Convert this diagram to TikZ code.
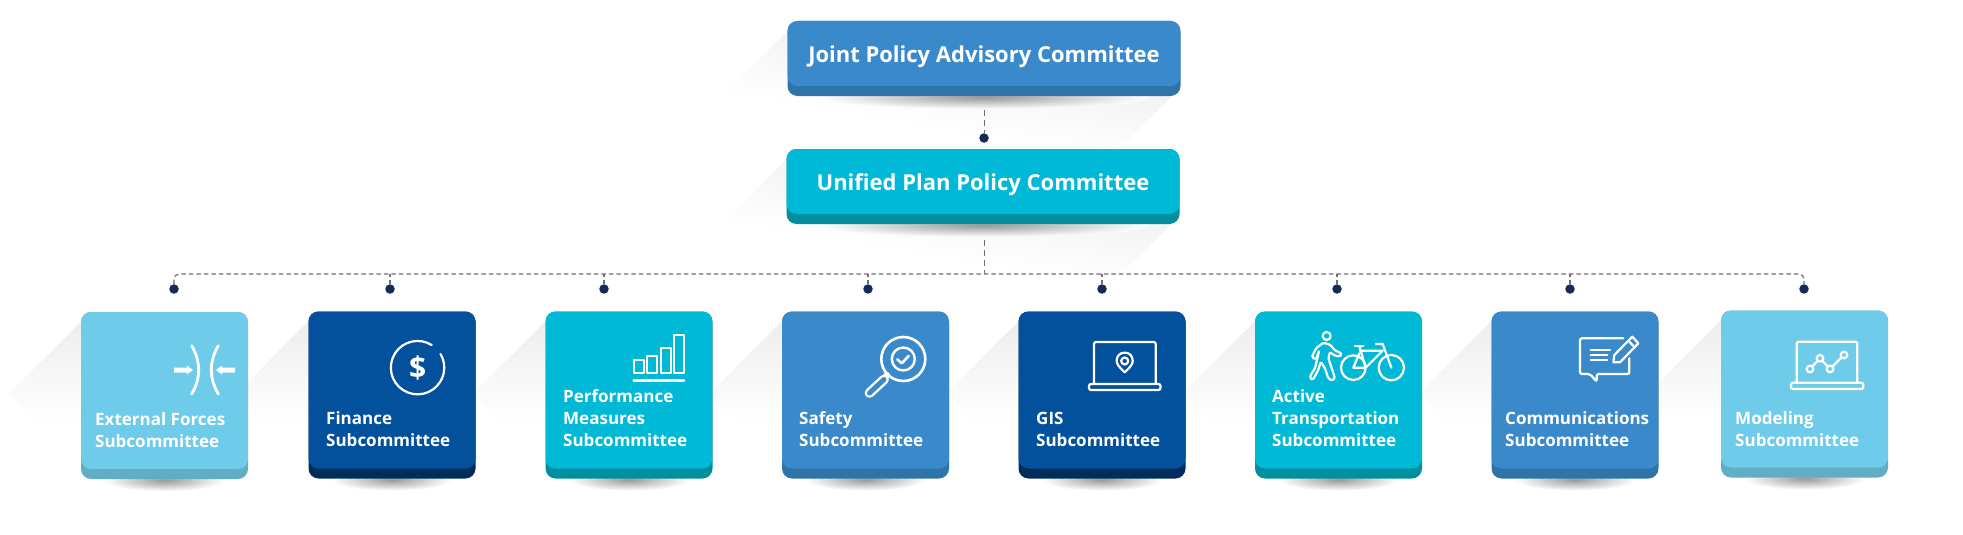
\documentclass[tikz,border=0pt]{standalone}
\usepackage{fontspec}
\setmainfont{Open Sans}
\usepackage{xcolor}
\usetikzlibrary{arrows,shapes,backgrounds}
\definecolor{bluefacec}{HTML}{3A8ACB}
\definecolor{bluelipc}{HTML}{2E74A8}
\definecolor{tealfacec}{HTML}{00B9D6}
\definecolor{teallipc}{HTML}{008F9F}
\definecolor{navyfacec}{HTML}{03519C}
\definecolor{navylipc}{HTML}{012D5B}
\definecolor{skyfacec}{HTML}{6ECBEA}
\definecolor{skylipc}{HTML}{62ACC4}
\definecolor{dotc}{HTML}{152B57}
\definecolor{dashc}{HTML}{707070}
\tikzstyle{facefill}=[path picture={\fill[#1,rounded corners=10pt]
    (path picture bounding box.north west) rectangle
    ([yshift=10pt]path picture bounding box.south east);}]
\tikzstyle{tier}=[rectangle,rounded corners=10pt,inner sep=0pt,minimum width=167pt,minimum height=167pt]
\tikzstyle{bluetier}=[tier,fill=bluelipc,facefill=bluefacec]
\tikzstyle{tealtier}=[tier,fill=teallipc,facefill=tealfacec]
\tikzstyle{navytier}=[tier,fill=navylipc,facefill=navyfacec]
\tikzstyle{skytier}=[tier,fill=skylipc,facefill=skyfacec]
\tikzstyle{committee}=[minimum width=393pt,minimum height=75pt,text=white,
    font=\fontsize{22}{27}\selectfont\bfseries,text height=16pt,text depth=8pt]
\tikzstyle{sublabel}=[anchor=south west,inner sep=0pt,align=left,text=white,
    font=\fontsize{17}{22}\selectfont\bfseries]
\tikzstyle{dot}=[circle,fill=dotc,inner sep=0pt,minimum size=9.5pt]
\tikzstyle{link}=[draw=dashc,line width=1.2pt,dash pattern=on 4.5pt off 3pt]
\tikzstyle{stem}=[link,line width=1pt,dash pattern=on 5.5pt off 4.5pt,shorten <=4pt]
\tikzstyle{glyph}=[draw=white,line width=2.2pt,line cap=round,line join=round]

\begin{document}
\begin{tikzpicture}[x=1pt,y=-1pt]
    \useasboundingbox (0,0) rectangle (1963,535);
    % committees
    \node[bluetier,committee](joint) at (984,58.5){Joint Policy Advisory Committee};
    \node[tealtier,committee](unified) at (983,186.5){Unified Plan Policy Committee};
    \node[dot](dotjoint) at (984,138){};
    \coordinate (bus) at (984,274);
    % subcommittees
    \node[skytier](external) at (164.5,395.5){};
    \node[navytier](finance) at (392,395){};
    \node[tealtier](performance) at (629,395){};
    \node[bluetier](safety) at (865.5,395){};
    \node[navytier](gis) at (1102,395){};
    \node[tealtier](active) at (1338.5,395){};
    \node[bluetier](communications) at (1575,395){};
    \node[skytier](modeling) at (1804.5,394){};
    \node[sublabel](externaltext) at (95,448){External Forces\\Subcommittee};
    \node[sublabel](financetext) at (326,447){Finance\\Subcommittee};
    \node[sublabel](performancetext) at (563,447){Performance\\Measures\\Subcommittee};
    \node[sublabel](safetytext) at (799,447){Safety\\Subcommittee};
    \node[sublabel](gistext) at (1036,447){GIS\\Subcommittee};
    \node[sublabel](activetext) at (1272,447){Active\\Transportation\\Subcommittee};
    \node[sublabel](communicationstext) at (1505,447){Communications\\Subcommittee};
    \node[sublabel](modelingtext) at (1735,447){Modeling\\Subcommittee};
    \node[dot](dotexternal) at (174,289){};
    \node[dot](dotfinance) at (390,289){};
    \node[dot](dotperformance) at (604,289){};
    \node[dot](dotsafety) at (868,289){};
    \node[dot](dotgis) at (1102,289){};
    \node[dot](dotactive) at (1337,289){};
    \node[dot](dotcommunications) at (1570,289){};
    \node[dot](dotmodeling) at (1804,289){};
    % connectors
    \begin{pgfonlayer}{background}
    \draw[stem](joint)--(dotjoint);
    \draw[stem,shorten <=6pt](unified.south -| bus)--(bus);
    \draw[link,rounded corners=5pt](dotexternal)|-(bus)-|(dotmodeling);
    \foreach \n in {finance,performance,safety,gis,active,communications}
        \draw[link](dot\n)--(dot\n |- bus);
    % long shadows, then the dark one under each box
    \foreach \n in {joint,unified}{
        \foreach \fadeby in {5,10,...,60}
            \fill[black,fill opacity=0.005]([yshift=-10pt]\n.north west)
                --([xshift=-\fadeby pt,yshift=-10pt-\fadeby pt]\n.north west)
                --([xshift=-8pt-\fadeby pt,yshift=-\fadeby pt]\n.south east)
                --([xshift=-8pt]\n.south east)--cycle;
        \shade[inner color=black!40,outer color=white]([yshift=-1pt]\n.south) ellipse (165 and 12);
    }
    \foreach \n in {external,finance,performance,safety,gis,active,communications,modeling}{
        \shade[top color=black!7,bottom color=white]([yshift=-10pt]\n.north west)--++(-72,72)
            --++(24,28)--([yshift=-110pt]\n.north west)--cycle;
        \shade[inner color=black!40,outer color=white]([yshift=-1pt]\n.south) ellipse (60 and 11);
    }
    \end{pgfonlayer}
    % external forces icon
    \fill[white](174,367.5)--(187,367.5)--(187,365.5)--(193,370)--(187,374.5)--(187,372.5)--(174,372.5)--cycle;
    \fill[white](235,367.5)--(222,367.5)--(222,365.5)--(216,370)--(222,374.5)--(222,372.5)--(235,372.5)--cycle;
    \draw[glyph,line width=2.8pt](191.7,345.7)..controls (201,362) and (201,378)..(191.7,394);
    \draw[glyph,line width=2.8pt](218.3,345.7)..controls (209,362) and (209,378)..(218.3,394);
    % finance icon
    \draw[glyph](431.7,345) arc[start angle=58,end angle=391,radius=26.7pt];
    \node[text=white,inner sep=0pt,font=\fontsize{30}{30}\selectfont\bfseries](dollar) at (417.7,368){\$};
    % performance icon
    \draw[glyph,line width=2.6pt](633.7,380.7)--(684,380.7);
    \draw[glyph](634,360) rectangle (644,372.7);
    \draw[glyph](647.3,356) rectangle (657,372.7);
    \draw[glyph](660.6,347.7) rectangle (670.6,372.7);
    \draw[glyph](674,334.7) rectangle (684,372.7);
    % safety icon
    \draw[glyph,line width=2.6pt](903.3,359) circle (22);
    \draw[glyph,line width=2.4pt](903.3,359) circle (11.5);
    \draw[glyph,line width=2.6pt](897.3,359.3)--(901.7,363.3)--(908.7,356);
    \draw[glyph,line width=6pt](887,375)--(884.5,378);
    \draw[glyph,double=bluefacec,double distance=5pt,line width=2.4pt](884,379.5)--(869.5,393);
    % gis icon
    \draw[glyph,rounded corners=2pt](1094,383.5)--(1094,342)--(1155.7,342)--(1155.7,383.5);
    \draw[glyph,rounded corners=2pt](1089,384)rectangle(1160.5,390);
    \draw[glyph](1124.7,372.3)..controls (1118,366) and (1116.7,364)..(1116.7,360.5)
        ..controls (1116.7,350) and (1132.7,350)..(1132.7,360.5)
        ..controls (1132.7,364) and (1131.4,366)..cycle;
    \draw[glyph](1124.7,361) circle (3.5);
    % active transportation icon
    \begin{scope}[shift={(1300,320)},scale=0.3333]
    \draw[glyph](80,48) circle (12);
    \draw[glyph,rounded corners=1.5pt](70,68)--(92,75)--(105,92)--(122,98)--(125,105)--(118,110)
        --(100,105)--(90,95)--(85,115)--(92,135)--(105,175)--(95,182)--(85,175)--(75,145)
        --(62,125)--(55,150)--(38,180)--(30,175)--(32,165)--(45,145)--(52,115)--(58,90)
        --(48,118)--(35,112)--(48,85)--cycle;
    \draw[glyph](160,143) circle (37);
    \draw[glyph](274,143) circle (38);
    \draw[glyph](165,77)--(190,77);
    \draw[glyph](178,78)--(197,143)--(160,143)--(178,100);
    \draw[glyph](180,92)--(248,92)--(197,143);
    \draw[glyph](228,72)--(248,72)--(274,143);
    \end{scope}
    % communications icon
    \begin{scope}[shift={(1570,325)},scale=0.3333]
    \draw[glyph,rounded corners=2pt](160,40)--(30,40)--(30,147)--(60,147)--(80,170)--(80,147)--(178,147)--(178,100);
    \draw[glyph](62,75)--(120,75);
    \draw[glyph](62,90)--(112,90);
    \draw[glyph](62,105)--(112,105);
    \draw[glyph](130,112)--(150,112)--(205,55)--(187,35)--(133,90)--cycle;
    \draw[glyph](175,47)--(194,67);
    \end{scope}
    % modeling icon
    \begin{scope}[shift={(1780,330)},scale=0.3333]
    \draw[glyph,rounded corners=2pt](50,157)--(50,35)--(232,35)--(232,157);
    \draw[glyph,rounded corners=2pt](33,158)rectangle(250,177);
    \draw[glyph](90,117)--(120,85)--(150,117)--(192,75);
    \draw[glyph,fill=skyfacec](90,117) circle (10);
    \draw[glyph,fill=skyfacec](120,85) circle (10);
    \draw[glyph,fill=skyfacec](150,117) circle (10);
    \draw[glyph,fill=skyfacec](192,75) circle (10);
    \end{scope}
\end{tikzpicture}
\end{document}
